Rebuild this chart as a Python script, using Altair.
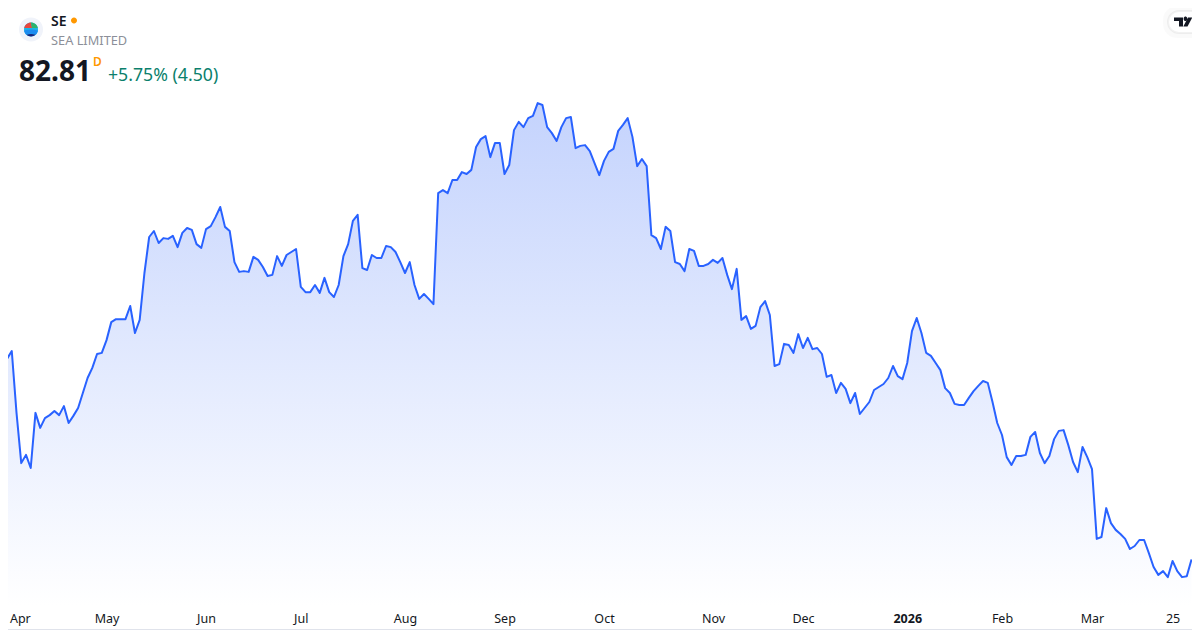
import altair as alt
import pandas as pd

prices = [134.2,136.3,138.4,121.9,108.5,110.7,107.2,121.9,117.9,120.5,121.3,122.4,121.3,123.7,119.2,121.1,123.2,127.2,131.2,133.9,137.6,137.9,141.3,146.1,146.9,146.9,146.9,150.4,143.2,146.7,159.2,168.8,170.4,167.2,168.5,168.3,169.1,166.1,169.9,171.2,170.7,166.9,165.9,170.9,171.7,174.1,176.8,171.5,170.4,162.1,159.5,159.7,159.5,163.5,162.7,160.8,158.4,158.7,163.7,161.1,164.0,164.8,165.6,
155.5,154.1,154.1,156.0,153.9,157.9,154.1,152.8,156.0,163.7,166.9,173.1,174.7,160.5,160.0,164.0,163.2,163.2,166.4,166.1,164.8,162.1,159.2,162.1,156.0,152.3,153.6,152.3,150.9,180.5,181.3,180.5,184.0,184.0,186.1,185.6,186.7,192.8,194.9,195.7,190.1,193.9,193.9,185.6,188.0,197.3,199.5,198.1,200.5,201.1,204.5,204.0,198.1,196.5,194.4,198.1,200.5,200.8,192.5,193.1,193.3,191.7,188.5,185.3,
189.1,191.5,192.3,197.1,198.7,200.5,195.5,187.7,189.6,187.7,169.3,168.5,165.6,171.5,170.4,162.1,161.6,159.7,165.6,165.1,161.1,161.1,161.6,162.7,161.9,163.2,158.7,154.9,160.3,146.7,147.7,144.3,145.1,150.1,151.7,148.0,134.4,134.9,140.3,140.0,137.9,142.9,139.2,141.9,138.9,139.2,137.6,131.5,132.0,127.2,129.9,128.3,124.5,127.2,121.6,123.2,124.8,128.0,128.8,129.6,131.2,134.4,131.7,
130.9,135.2,143.7,147.2,143.2,137.9,137.1,135.2,133.3,128.5,127.2,124.3,124.0,124.0,125.9,127.7,129.1,130.4,129.9,124.8,119.2,116.0,110.1,108.0,110.4,110.4,110.7,115.5,116.8,111.2,108.5,110.4,114.9,117.1,117.3,113.3,108.8,106.1,112.8,110.1,106.9,88.3,88.8,96.5,92.5,90.7,89.6,88.3,85.6,86.4,88.0,88.0,84.5,80.8,78.7,79.7,78.1,82.4,79.7,78.1,78.31,82.81]
tick_values = [1.5,22,43,63,85,106,127,150,169,191,211,230,247]
tick_labels = ["Apr","May","Jun","Jul","Aug","Sep","Oct","Nov","Dec","2026","Feb","Mar","25"]

W, H = 1184, 622
N = len(prices)
step = (1191.5 - 2.3) / (N - 1)
i_lo = (8 - 2.3) / step
i_hi = (1192 - 2.3) / step
py_lo = (862 - H) / 3.75
py_hi = 862 / 3.75
base = 70.4
df = pd.DataFrame({"i": list(range(N)), "price": prices, "base": [base] * N})

label_map = "{" + ",".join(f"'{v}':'{l}'" for v, l in zip(tick_values, tick_labels)) + "}"
x_enc = alt.X("i:Q", scale=alt.Scale(domain=[i_lo, i_hi], nice=False, zero=False),
              axis=alt.Axis(values=tick_values, labelExpr=label_map + "[datum.value]",
                            title=None, grid=False, domain=False, ticks=False, orient="bottom",
                            offset=-12, labelPadding=0, labelOverlap=False, labelBound=False,
                            labelFlush=False, labelFont="Noto Sans", labelFontSize=12.5,
                            labelColor="#131722", labelBaseline="middle",
                            labelAlign=alt.expr("datum.value<5?'left':'center'"),
                            labelFontWeight=alt.expr("datum.value==191?'bold':'normal'")))
y_enc = alt.Y("price:Q", scale=alt.Scale(domain=[py_lo, py_hi], nice=False, zero=False), axis=None)

area = alt.Chart(df).mark_area(clip=True, line=False, color=alt.Gradient(
    gradient="linear", x1=0, x2=0, y1=0, y2=1,
    stops=[alt.GradientStop(color="#c4d3fd", offset=0), alt.GradientStop(color="#ffffff", offset=1)],
)).encode(x=x_enc, y=y_enc, y2="base:Q")
line = alt.Chart(df).mark_line(clip=True, color="#2962ff", strokeWidth=2, strokeJoin="round").encode(
    x="i:Q", y=alt.Y("price:Q", axis=None))


def px(x):
    return alt.value(x - 8)


def py(y):
    return alt.value(y - 8)


def txt(s, x, y, size, color, weight="normal", font="Noto Sans"):
    return alt.Chart(df.head(1)).mark_text(text=s, align="left", baseline="alphabetic", font=font,
                                           fontSize=size, color=color, fontWeight=weight).encode(x=px(x), y=py(y))


def shape(path, x, y, color):
    return alt.Chart(df.head(1)).mark_point(shape=path, size=4, filled=True, fill=color, opacity=1,
                                            strokeWidth=0).encode(x=px(x), y=py(y))


def rect(x0, x1, y0, y1, **kw):
    return alt.Chart(df.head(1)).mark_rect(**kw).encode(x=px(x0), x2=px(x1), y=py(y0), y2=py(y1))


borders = [
    alt.Chart(df.head(1)).mark_rule(color="#e0e3eb", strokeWidth=1).encode(y=py(629.5), x=px(8), x2=px(1192)),
]

tv_tab = [
    rect(1166, 1206, 9, 35, color="#ffffff", cornerRadius=11, stroke="#000000", strokeOpacity=0.02, strokeWidth=6),
    rect(1168, 1206, 11, 33, color="#ffffff", cornerRadius=11, stroke="#000000", strokeOpacity=0.05, strokeWidth=2),
    shape("M-9-4.5H0V4.5H-4V-1H-9Z", 1183, 22, "#131722"),
    shape("M-1.5-2.2A1.8 1.8 0 1 1 2-2.2A1.8 1.8 0 1 1-1.5-2.2Z", 1185.2, 21, "#131722"),
    shape("M1-4.5H5.2L0.5 4.5H-3.7Z", 1187, 22, "#131722"),
]

logo = [
    shape("M-12 0A12 12 0 1 1 12 0A12 12 0 1 1-12 0Z", 31, 29.5, "#f0f3fa"),
    shape("M-7 0A7 7 0 1 1 7 0A7 7 0 1 1-7 0Z", 31, 29.5, "#1cb5e8"),
    shape("M-6.8-1.5A7 7 0 0 1 0-7L1-1.5Z", 31, 29.5, "#e8473f"),
    shape("M0-7A7 7 0 0 1 6.8-1.5L1-1.5Z", 31, 29.5, "#2fb36b"),
    shape("M-6.9 1Q0 -1 6.9 1A7 7 0 0 1 4.5 5.3Q0 3 -4.5 5.3A7 7 0 0 1-6.9 1Z", 31, 29.5, "#1c8cf0"),
    shape("M-4.5 5.3Q0 3.5 4.5 5.3A7 7 0 0 1-4.5 5.3Z", 31, 29.5, "#1a237e"),
]

header = [
    txt("SE", 51, 26, 14, "#131722", 600),
    shape("M-3 0A3 3 0 1 1 3 0A3 3 0 1 1-3 0Z", 74, 20.5, "#ff9800"),
    txt("SEA LIMITED", 51, 45, 12.8, "#8c8f99"),
    txt("82.81", 19, 81, 28, "#131722", 700),
    txt("D", 93, 66, 12, "#ff9800", 600),
    txt("+5.75% (4.50)", 108, 81, 17.7, "#0b7f6c"),
]

layers = [area, line] + borders + tv_tab + logo + header
chart = alt.layer(*layers).resolve_scale(x="shared").properties(
    width=W, height=H, padding=0, autosize=alt.AutoSizeParams(type="none"), background="#ffffff"
).configure_view(stroke=None)

chart.save("out.html", embed_options={"renderer": "svg", "actions": False})
